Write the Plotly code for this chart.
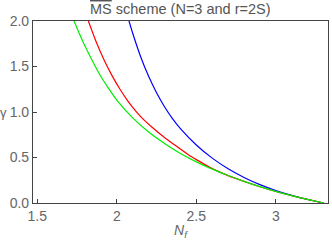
import plotly.graph_objects as go

# Values
nf_green = [1.731, 1.760, 1.800, 1.850, 1.900, 1.950, 2.000, 2.100, 2.200, 2.300, 2.400,
            2.500, 2.600, 2.700, 2.800, 2.900, 3.000, 3.100, 3.200, 3.300]
gam_green = [2.000, 1.880, 1.725, 1.550, 1.390, 1.255, 1.130, 0.935, 0.780, 0.655, 0.545,
             0.452, 0.372, 0.302, 0.238, 0.180, 0.127, 0.081, 0.039, 0.000]

nf_red = [1.821, 1.870, 1.920, 1.970, 2.020, 2.063, 2.100, 2.150, 2.220, 2.300, 2.356,
          2.450, 2.503, 2.600, 2.700, 2.800, 2.900, 3.000, 3.100, 3.200, 3.300]
gam_red = [2.000, 1.772, 1.572, 1.400, 1.250, 1.137, 1.051, 0.949, 0.835, 0.720, 0.648,
           0.530, 0.474, 0.378, 0.301, 0.237, 0.179, 0.126, 0.080, 0.039, 0.000]

nf_blue = [2.075, 2.100, 2.150, 2.200, 2.250, 2.300, 2.350, 2.400, 2.500, 2.600, 2.700,
           2.800, 2.900, 3.000, 3.100, 3.200, 3.300]
gam_blue = [2.010, 1.865, 1.607, 1.392, 1.212, 1.058, 0.928, 0.818, 0.638, 0.493, 0.376,
            0.281, 0.202, 0.137, 0.083, 0.038, 0.000]

x_ticks = [1.5, 2, 2.5, 3]
x_tick_text = ["1.5", "2", "2.5", "3"]
y_ticks = [0, 0.5, 1.0, 1.5, 2.0]
y_tick_text = ["0.0", "0.5", "1.0", "1.5", "2.0"]

title_text = '<span style="text-decoration:overline">MS</span> scheme (N=3 and r=2S)'

FONT = "Liberation Sans"
GREY = "#666666"
AXC = "#444444"

fig = go.Figure()
for xs, ys, col in [(nf_blue, gam_blue, "#0000ff"),
                    (nf_red, gam_red, "#ff0000"),
                    (nf_green, gam_green, "#00ee00")]:
    fig.add_trace(go.Scatter(x=xs, y=ys, mode="lines",
                             line=dict(color=col, width=1.2, shape="spline", smoothing=0.6),
                             showlegend=False, hoverinfo="skip", cliponaxis=True))

axis_common = dict(ticks="inside", ticklen=4, tickcolor=AXC, showgrid=False, zeroline=False,
                   showline=True, linecolor=AXC, linewidth=1.2, mirror=True, automargin=False,
                   tickfont=dict(size=14, color=GREY, family=FONT))

fig.update_layout(
    width=332, height=241,
    margin=dict(l=33, r=4, t=21, b=38, autoexpand=False),
    paper_bgcolor="white", plot_bgcolor="white",
    font=dict(family=FONT, size=14, color=GREY),
    xaxis=dict(range=[1.473, 3.328], tickvals=x_ticks, ticktext=x_tick_text, **axis_common),
    yaxis=dict(range=[0, 2], tickvals=y_ticks, ticktext=y_tick_text, **axis_common),
    annotations=[
        dict(text=title_text, xref="paper", yref="paper", x=0.5, y=1.0, yshift=2,
             xanchor="center", yanchor="bottom", showarrow=False,
             font=dict(size=14.5, color="#555555", family=FONT)),
        dict(text="<i>N</i><sub><i>f</i></sub>", xref="paper", yref="paper", x=0.5, y=0,
             yshift=-17, xanchor="center", yanchor="top", showarrow=False,
             font=dict(size=14, color=GREY, family=FONT)),
        dict(text="γ", xref="paper", yref="y", x=0, y=1.0, xshift=-24,
             xanchor="right", yanchor="middle", showarrow=False,
             font=dict(size=13, color=GREY, family=FONT)),
    ],
)

fig.write_html("out.html", config={"displayModeBar": False},
               post_script="document.body.style.margin='0px';document.body.style.overflow='hidden';")
